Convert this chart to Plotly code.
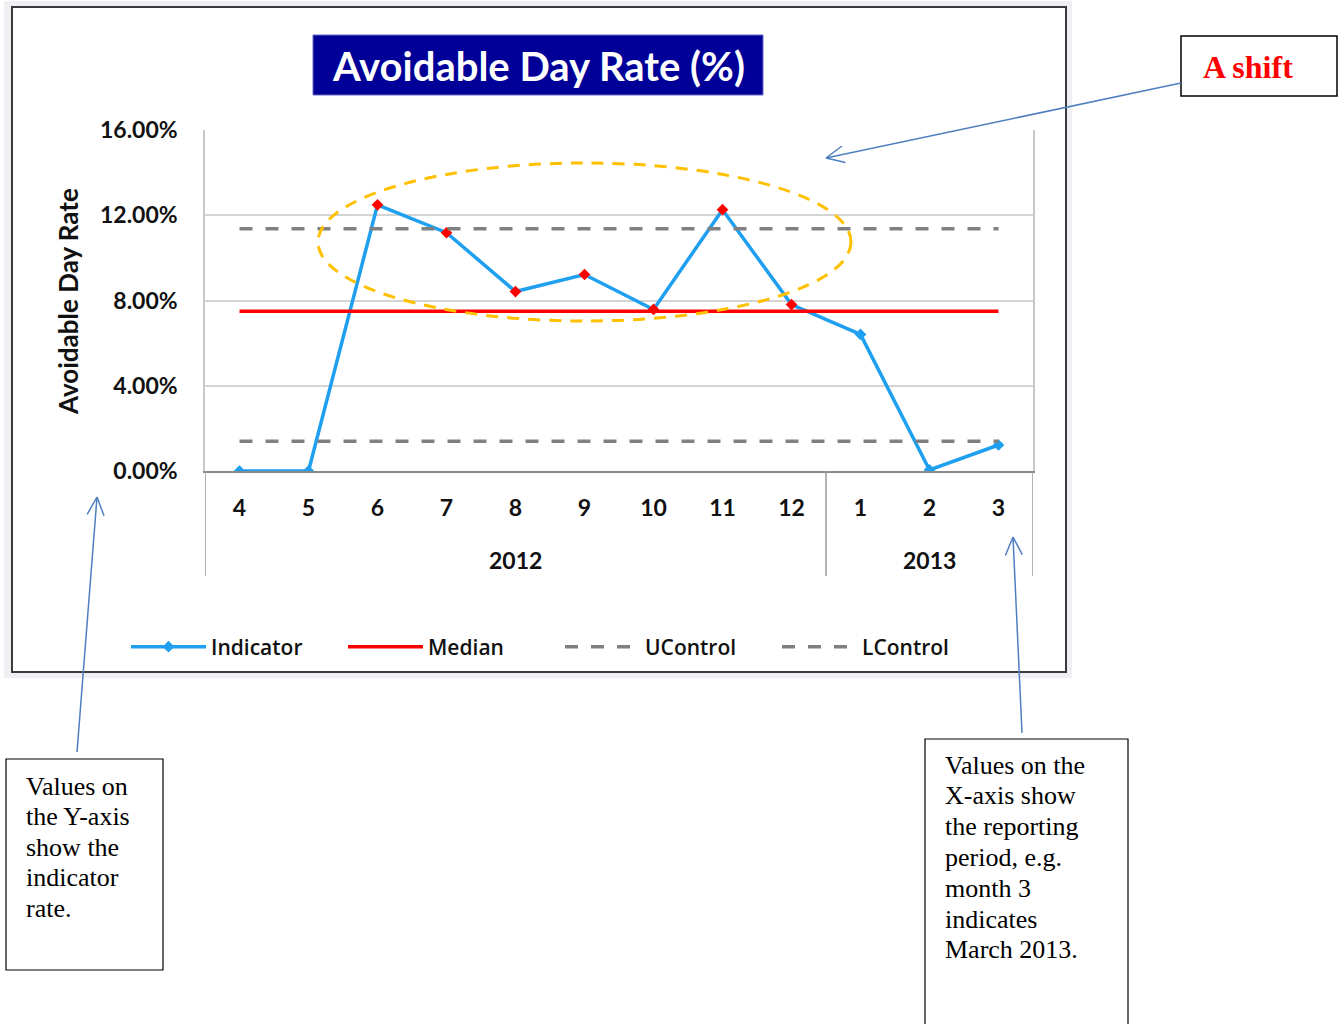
import math
import plotly.graph_objects as go

# ---------------- data ----------------
months = ["4", "5", "6", "7", "8", "9", "10", "11", "12", "1", "2", "3"]
years = ["2012", "2013"]
months_per_year = [9, 3]
indicator = [0.0, 0.0, 12.49, 11.18, 8.42, 9.22, 7.58, 12.26, 7.81, 6.41, 0.05, 1.22]
median = [7.49] * len(months)
ucontrol = [11.37] * len(months)
lcontrol = [1.40] * len(months)
shift_flags = [False, False, True, True, True, True, True, True, True, False, False, False]
y_ticks = [0, 4, 8, 12, 16]

note_y_lines = ["Values on", "the Y-axis", "show the", "indicator", "rate."]
note_x_lines = ["Values on the", "X-axis show", "the reporting", "period, e.g.",
                "month 3", "indicates", "March 2013."]

W, H = 1340, 1024


def px(x):
    return x / W


def py(y):
    return 1 - y / H


x = list(range(len(months)))
BLUE = "#1E9FF0"
marker_colors = ["#FF0000" if f else BLUE for f in shift_flags]
SANS = "Lato, Open Sans, sans-serif"
SERIF = "Liberation Serif, Times New Roman, serif"

fig = go.Figure()
fig.add_trace(go.Scatter(
    x=x, y=indicator, name="Indicator", mode="lines+markers",
    line=dict(color=BLUE, width=3.5),
    marker=dict(symbol="diamond", size=9, color=marker_colors,
                line=dict(width=0)),
))
fig.add_trace(go.Scatter(
    x=x, y=median, name="Median", mode="lines",
    line=dict(color="#FF0000", width=3.5),
))
fig.add_trace(go.Scatter(
    x=x, y=ucontrol, name="UControl", mode="lines",
    line=dict(color="#808080", width=3.5, dash="13px,13px"),
))
fig.add_trace(go.Scatter(
    x=x, y=lcontrol, name="LControl", mode="lines",
    line=dict(color="#808080", width=3.5, dash="13px,13px"),
))

shapes = []
# shadow + outer chart box
shapes.append(dict(type="rect", xref="paper", yref="paper", layer="below",
                   x0=px(4), x1=px(1072), y0=py(1), y1=py(678),
                   fillcolor="#EEF0F4", line=dict(width=0)))
shapes.append(dict(type="rect", xref="paper", yref="paper", layer="below",
                   x0=px(12), x1=px(1066), y0=py(7), y1=py(672),
                   fillcolor="white", line=dict(color="#3A3A3A", width=2)))
# title box
shapes.append(dict(type="rect", xref="paper", yref="paper",
                   x0=px(313), x1=px(763), y0=py(35), y1=py(95),
                   fillcolor="#000099", line=dict(color="#6A6AC8", width=1)))

# category group dividers below the axis
bounds = [-0.5]
for n in months_per_year:
    bounds.append(bounds[-1] + n)
for b in bounds:
    shapes.append(dict(type="line", xref="x", yref="paper",
                       x0=b, x1=b, y0=py(471), y1=py(576),
                       line=dict(color="#9A9A9A", width=1.5)))

# yellow dashed ellipse highlighting the shift
shapes.append(dict(type="circle", xref="paper", yref="paper",
                   x0=px(318), x1=px(851), y0=py(163), y1=py(321),
                   line=dict(color="#FFC000", width=3, dash="12px,9px"),
                   fillcolor="rgba(0,0,0,0)"))

# annotation text boxes
shapes.append(dict(type="rect", xref="paper", yref="paper",
                   x0=px(1181), x1=px(1337), y0=py(36), y1=py(96),
                   line=dict(color="black", width=1.5)))
shapes.append(dict(type="rect", xref="paper", yref="paper",
                   x0=px(6), x1=px(163), y0=py(759), y1=py(970),
                   line=dict(color="black", width=1.2)))
shapes.append(dict(type="rect", xref="paper", yref="paper",
                   x0=px(925), x1=px(1128), y0=py(739), y1=py(1030),
                   line=dict(color="black", width=1.2)))

# open-head arrows
ARROW = "#4F7FC0"


def arrow(x0, y0, x1, y1, head=20, ang=25):
    out = [dict(type="line", xref="paper", yref="paper",
                x0=px(x0), y0=py(y0), x1=px(x1), y1=py(y1),
                line=dict(color=ARROW, width=1.5))]
    theta = math.atan2(y0 - y1, x0 - x1)
    for s in (-1, 1):
        a = theta + s * math.radians(ang)
        hx, hy = x1 + head * math.cos(a), y1 + head * math.sin(a)
        out.append(dict(type="line", xref="paper", yref="paper",
                        x0=px(hx), y0=py(hy), x1=px(x1), y1=py(y1),
                        line=dict(color=ARROW, width=1.5)))
    return out


shapes += arrow(1181, 83, 826, 158)
shapes += arrow(77, 752, 97, 497)
shapes += arrow(1022, 733, 1013, 537)

annotations = []
annotations.append(dict(xref="paper", yref="paper", x=px(538), y=py(66),
                        text="<b>Avoidable Day Rate (%)</b>", showarrow=False,
                        font=dict(family=SANS, size=40, color="white"),
                        xanchor="center", yanchor="middle"))
annotations.append(dict(xref="paper", yref="paper", x=px(68), y=py(302),
                        text="<b>Avoidable Day Rate</b>", showarrow=False, textangle=-90,
                        font=dict(family=SANS, size=26, color="#111111"),
                        xanchor="center", yanchor="middle"))
# year group labels
start = 0
for yr, n in zip(years, months_per_year):
    annotations.append(dict(xref="x", yref="paper", x=start + (n - 1) / 2, y=py(560),
                            text="<b>" + yr + "</b>", showarrow=False,
                            font=dict(family=SANS, size=23, color="#111111"),
                            xanchor="center", yanchor="middle"))
    start += n

annotations.append(dict(xref="paper", yref="paper", x=px(1248), y=py(67),
                        text="<b>A shift</b>", showarrow=False,
                        font=dict(family=SERIF, size=32, color="#FF0000"),
                        xanchor="center", yanchor="middle"))
for i, line in enumerate(note_y_lines):
    annotations.append(dict(xref="paper", yref="paper", x=px(24), y=py(786 + 30.6 * i),
                            text=line, showarrow=False, align="left",
                            font=dict(family=SERIF, size=26, color="black"),
                            xanchor="left", yanchor="middle"))
for i, line in enumerate(note_x_lines):
    annotations.append(dict(xref="paper", yref="paper", x=px(943), y=py(765 + 30.8 * i),
                            text=line, showarrow=False, align="left",
                            font=dict(family=SERIF, size=26, color="black"),
                            xanchor="left", yanchor="middle"))

TICKFONT = dict(family=SANS, size=23, color="#111111")

fig.update_layout(
    width=W, height=H,
    margin=dict(l=0, r=0, t=0, b=0, autoexpand=False),
    paper_bgcolor="white", plot_bgcolor="white",
    shapes=shapes, annotations=annotations,
    showlegend=True,
    legend=dict(orientation="h", x=px(126), y=py(647), xanchor="left", yanchor="middle",
                font=dict(family="Open Sans, sans-serif", size=21, color="#111111", weight=600),
                entrywidth=127, entrywidthmode="pixels", bgcolor="rgba(0,0,0,0)",
                itemwidth=75),
    xaxis=dict(domain=[px(205), px(1033)], range=[-0.5, len(months) - 0.5],
               tickmode="array", tickvals=x,
               ticktext=["<b>" + m + "</b>" for m in months],
               tickfont=TICKFONT, showgrid=False, zeroline=False,
               showline=True, linecolor="#8A8A8A", linewidth=1.5, mirror=False,
               ticks="", ticklabelstandoff=16, fixedrange=True, automargin=False),
    yaxis=dict(domain=[py(471), py(130)], range=[0, 16],
               tickmode="array", tickvals=y_ticks,
               ticktext=["<b>%.2f%%</b>" % v for v in y_ticks],
               tickfont=TICKFONT, showgrid=True, gridcolor="#D4D4D4", gridwidth=1.5,
               zeroline=False, showline=True, linecolor="#C8C8C8", linewidth=1.5, mirror=True,
               ticks="", ticklabelstandoff=21, fixedrange=True, automargin=False),
)

fig.write_html("out.html")
